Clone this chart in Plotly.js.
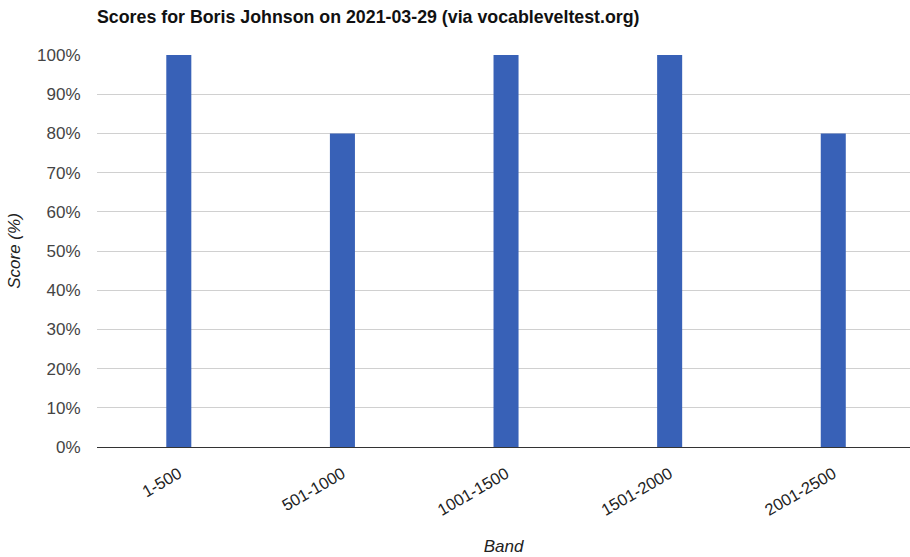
<!DOCTYPE html>
<html>
<head>
<meta charset="utf-8">
<script src="https://cdn.plot.ly/plotly-3.0.1.min.js"></script>
<style>
  html, body { margin: 0; padding: 0; background: #fff; }
  #chart { width: 910px; height: 557px; }
</style>
</head>
<body>
<div id="chart"></div>
<script>
// Vocabulary bands and the score reached in each
const bands = ['1-500', '501-1000', '1001-1500', '1501-2000', '2001-2500'];
const scores = [1.0, 0.8, 1.0, 1.0, 0.8];
const yTicks = [0, 0.1, 0.2, 0.3, 0.4, 0.5, 0.6, 0.7, 0.8, 0.9, 1.0];

const trace = {
  type: 'bar',
  x: bands,
  y: scores,
  width: 0.153,
  marker: { color: '#3861b7', line: { width: 0 } },
  hoverinfo: 'x+y'
};

const layout = {
  width: 910,
  height: 557,
  paper_bgcolor: '#ffffff',
  plot_bgcolor: '#ffffff',
  margin: { l: 97, r: 0, t: 54.5, b: 109.5 },
  showlegend: false,
  font: { family: 'Liberation Sans, Arial, sans-serif', color: '#333' },
  title: {
    text: '<b>Scores for Boris Johnson on 2021-03-29 (via vocableveltest.org)</b>',
    font: { size: 17.8, color: '#111' },
    xref: 'container', yref: 'container',
    x: 97 / 910, xanchor: 'left',
    y: 1 - 17 / 557, yanchor: 'middle'
  },
  xaxis: {
    type: 'category',
    range: [-0.5, 4.469],
    tickangle: -30,
    tickfont: { size: 16.5, color: '#222' },
    showgrid: false,
    showline: true,
    linecolor: '#333',
    linewidth: 1,
    ticks: 'outside',
    ticklen: 10,
    tickcolor: 'rgba(0,0,0,0)',
    automargin: false,
    title: { text: '<i>Band</i>', font: { size: 17, color: '#222' }, standoff: 22 }
  },
  yaxis: {
    range: [0, 1],
    tickvals: yTicks,
    tickformat: '.0%',
    tickfont: { size: 17, color: '#444' },
    showgrid: true,
    gridcolor: '#d0d0d0',
    gridwidth: 1,
    zeroline: false,
    ticks: 'outside',
    ticklen: 12,
    tickcolor: 'rgba(0,0,0,0)',
    automargin: false,
    title: { text: '<i>Score (%)</i>', font: { size: 17, color: '#222' }, standoff: 12 }
  },
  bargap: 0.85
};

Plotly.newPlot('chart', [trace], layout, { displayModeBar: false, staticPlot: true });
</script>
</body>
</html>
